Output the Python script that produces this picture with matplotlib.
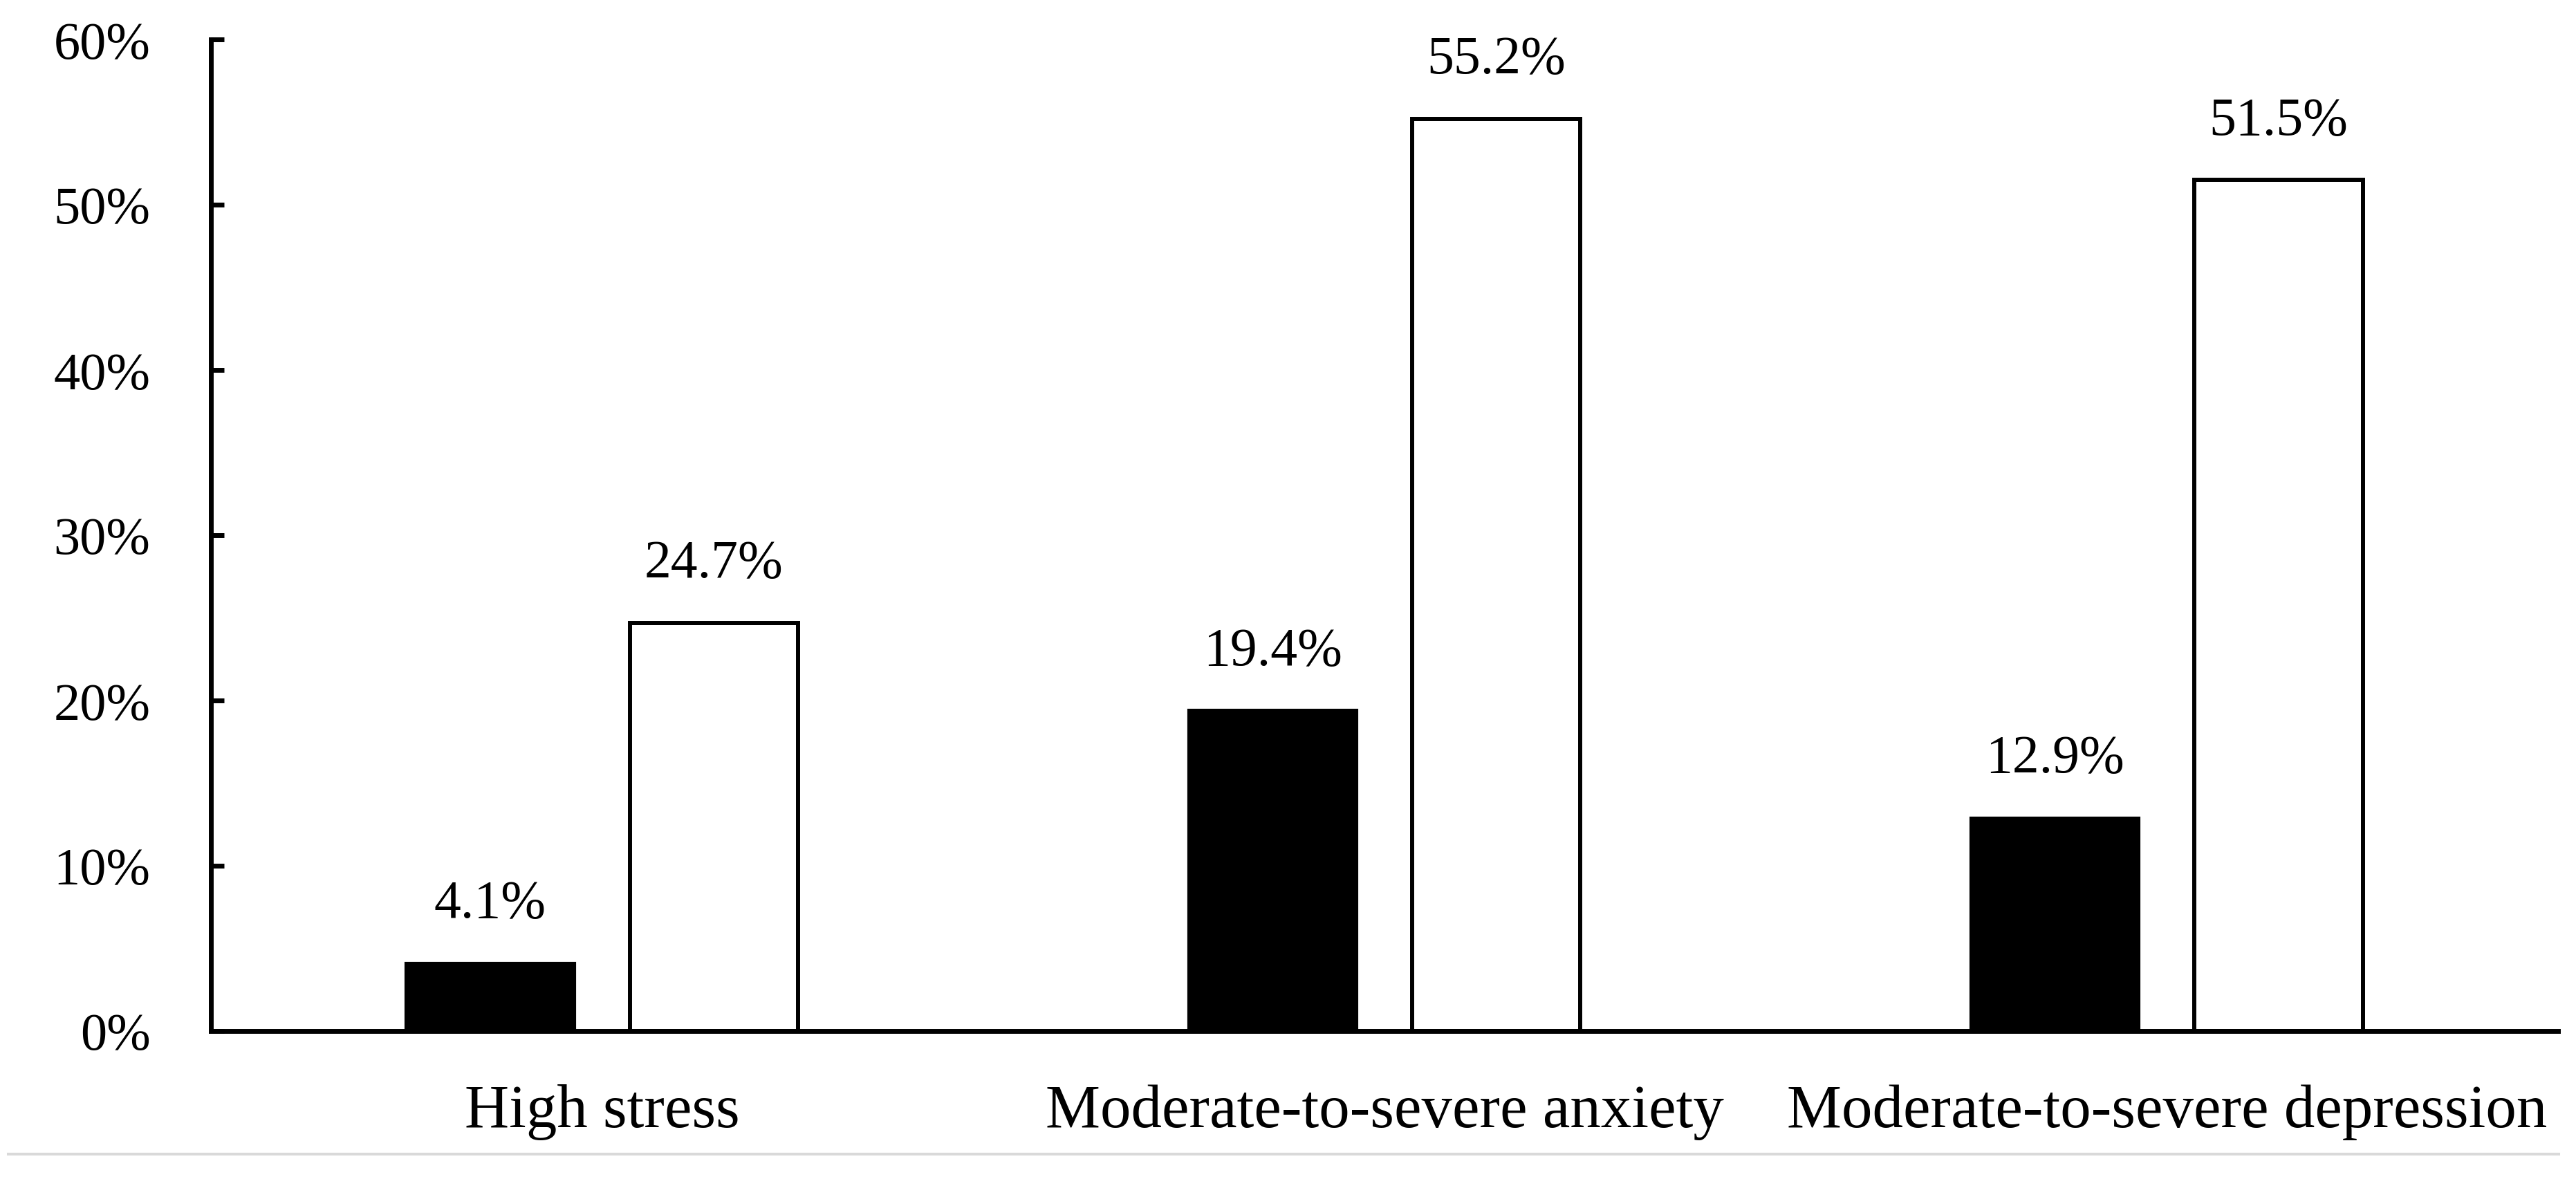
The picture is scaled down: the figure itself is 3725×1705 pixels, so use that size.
import numpy as np
from matplotlib import pyplot as plt
from matplotlib.lines import Line2D

# data (percent)
categories = ['High stress', 'Moderate-to-severe anxiety', 'Moderate-to-severe depression']
series_black = [4.1, 19.4, 12.9]
series_white = [24.7, 55.2, 51.5]
y_ticks = [0, 10, 20, 30, 40, 50, 60]

plt.rcParams['font.family'] = ['Liberation Serif', 'DejaVu Serif']

W, H = 3725, 1706
fig = plt.figure(figsize=(W / 100, H / 100), dpi=100)
# axes box in pixels: x 305..3699, y 58..1492 (from the top)
ax = fig.add_axes([305 / W, 1 - 1492 / H, (3699 - 305) / W, (1492 - 58) / H])

x = np.arange(len(categories))
bw = 0.215
off = 0.143
ax.bar(x - off, series_black, width=bw, color='black', edgecolor='black', linewidth=3)
ax.bar(x + off, series_white, width=bw, color='white', edgecolor='black', linewidth=4.3)

# value labels above the bars
for xs, vals in ((x - off, series_black), (x + off, series_white)):
    for xi, v in zip(xs, vals):
        ax.annotate(f'{v}%', (xi, v), xytext=(0, 48), textcoords='offset points',
                    ha='center', va='baseline', fontsize=56)

ax.set_xlim(-0.5, len(categories) - 0.5)
ax.set_ylim(0, 60)
ax.set_yticks(y_ticks)
ax.set_yticklabels([f'{t}%' for t in y_ticks])
ax.set_xticks(x)
ax.set_xticklabels(categories)

for s in ['top', 'right']:
    ax.spines[s].set_visible(False)
for s in ['left', 'bottom']:
    ax.spines[s].set_linewidth(5)
    ax.spines[s].set_capstyle('projecting')

ax.tick_params(axis='y', direction='in', length=14, width=5, pad=63, labelsize=55)
ax.tick_params(axis='x', length=0, pad=55, labelsize=64)

# thin grey rule at the very bottom of the figure
fig.add_artist(Line2D([12 / W, 3700 / W], [1 - 1670 / H] * 2, color='#d9d9d9', lw=2.9))

fig.savefig('out.png', dpi=100)
